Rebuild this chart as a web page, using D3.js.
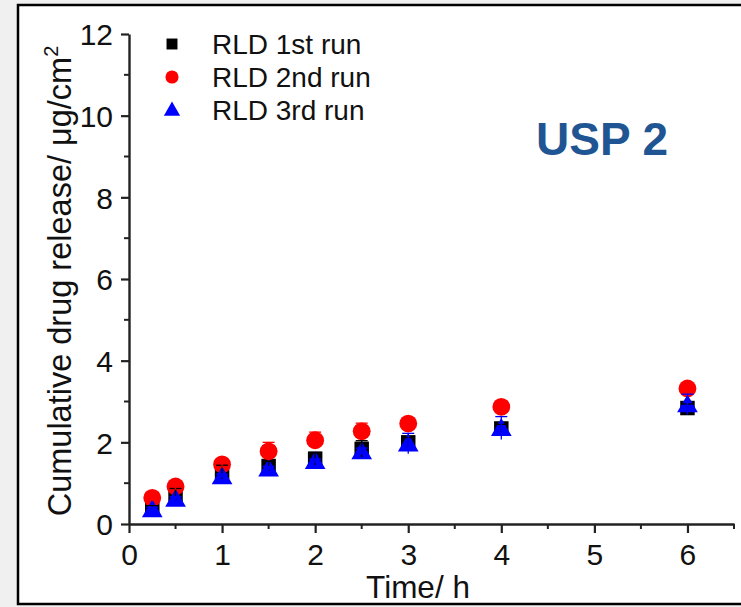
<!DOCTYPE html>
<html>
<head>
<meta charset="utf-8">
<script src="https://cdn.jsdelivr.net/npm/d3@7"></script>
<style>
  html, body { margin: 0; padding: 0; background: #f0f0f0; overflow: hidden; }
  svg { display: block; }
  text { font-family: "Liberation Sans", Arial, sans-serif; fill: #111; }
</style>
</head>
<body>
<svg id="chart" width="741" height="607"></svg>
<script>
// Sampling times (h)
const times = [0.25, 0.5, 1, 1.5, 2, 2.5, 3, 4, 6];

// Cumulative drug release (µg/cm²) for each run, with error bar half-widths
const run1 = [0.40, 0.72, 1.27, 1.42, 1.60, 1.84, 2.00, 2.34, 2.84];
const run1Err = [0.05, 0.15, 0.17, 0.12, 0.15, 0.20, 0.12, 0.10, 0.10];
const run2 = [0.64, 0.92, 1.46, 1.78, 2.05, 2.27, 2.46, 2.87, 3.32];
const run2Err = [0.08, 0.08, 0.08, 0.22, 0.20, 0.20, 0.10, 0.05, 0.05];
const run3 = [0.36, 0.62, 1.17, 1.36, 1.54, 1.78, 1.97, 2.35, 2.93];
const run3Err = [0.05, 0.05, 0.05, 0.05, 0.05, 0.08, 0.25, 0.28, 0.25];

const seriesNames = ["RLD 1st run", "RLD 2nd run", "RLD 3rd run"];
const xTicks = [0, 1, 2, 3, 4, 5, 6];
const yTicks = [0, 2, 4, 6, 8, 10, 12];

const svg = d3.select("#chart");

// page frame (right edge runs past the view)
svg.append("rect").attr("x", 18).attr("y", 5).attr("width", 780).attr("height", 599)
  .attr("fill", "#fff").attr("stroke", "#000").attr("stroke-width", 2.5);

const x = d3.scaleLinear().domain([0, 6.5]).range([129, 734]);
const y = d3.scaleLinear().domain([0, 12]).range([524, 34]);

const axisColor = "#222";

// minor ticks
const xMinor = d3.range(0.5, 6.5, 1);
const yMinor = d3.range(1, 12, 2);

const gx = svg.append("g").attr("transform", `translate(0,${y(0)})`);
gx.call(d3.axisBottom(x).tickValues(xTicks).tickFormat(d3.format("d")).tickSize(9).tickSizeOuter(0).tickPadding(9));
gx.append("g").selectAll("line").data(xMinor.concat([6.5])).join("line")
  .attr("x1", d => x(d)).attr("x2", d => x(d)).attr("y1", 0).attr("y2", 5)
  .attr("stroke", axisColor).attr("stroke-width", 2);

const gy = svg.append("g").attr("transform", `translate(${x(0)},0)`);
gy.call(d3.axisLeft(y).tickValues(yTicks).tickFormat(d3.format("d")).tickSize(8).tickSizeOuter(0).tickPadding(8));
gy.append("g").selectAll("line").data(yMinor).join("line")
  .attr("y1", d => y(d)).attr("y2", d => y(d)).attr("x1", 0).attr("x2", -5)
  .attr("stroke", axisColor).attr("stroke-width", 2);

[gx, gy].forEach(g => {
  g.select(".domain").attr("stroke", axisColor).attr("stroke-width", 2.4);
  g.selectAll(".tick line").attr("stroke", axisColor).attr("stroke-width", 2.2);
  g.selectAll(".tick text").attr("font-size", 30).attr("fill", "#111")
    .attr("font-family", "'Liberation Sans', Arial, sans-serif");
});
gx.selectAll(".tick text").attr("dy", "0.75em");
gy.selectAll(".tick text").attr("dy", "0.36em");

// axis titles
svg.append("text").attr("x", 418).attr("y", 598).attr("text-anchor", "middle")
  .attr("font-size", 31.5).text("Time/ h");

const yt = svg.append("text")
  .attr("transform", `translate(71,${281}) rotate(-90)`)
  .attr("text-anchor", "middle").attr("font-size", 32.5);
yt.append("tspan").text("Cumulative drug release/ μg/cm");
yt.append("tspan").attr("font-size", 20).attr("dy", -13).text("2");

// data
const series = [
  { name: seriesNames[0], vals: run1, err: run1Err, color: "#000", shape: d3.symbolSquare, size: 210, lsize: 120 },
  { name: seriesNames[1], vals: run2, err: run2Err, color: "#ff0000", shape: d3.symbolCircle, size: 250, lsize: 135 },
  { name: seriesNames[2], vals: run3, err: run3Err, color: "#0000ff", shape: d3.symbolTriangle, size: 185, lsize: 115 }
];

series.forEach(s => {
  const pts = times.map((t, i) => ({ t, v: s.vals[i], e: s.err[i] }));
  svg.append("g").selectAll("path").data(pts).join("path")
    .attr("d", d3.symbol().type(s.shape).size(s.size))
    .attr("transform", d => `translate(${x(d.t)},${y(d.v) + (s.shape === d3.symbolTriangle ? 2 : 0)})`)
    .attr("fill", s.color);
});

series.forEach(s => {
  const pts = times.map((t, i) => ({ t, v: s.vals[i], e: s.err[i] }));
  const g = svg.append("g").attr("stroke", s.color).attr("stroke-width", 1.3);
  g.selectAll("line.v").data(pts).join("line").attr("class", "v")
    .attr("x1", d => x(d.t)).attr("x2", d => x(d.t))
    .attr("y1", d => y(d.v - d.e)).attr("y2", d => y(d.v + d.e));
  g.selectAll("line.ct").data(pts).join("line").attr("class", "ct")
    .attr("x1", d => x(d.t) - 6).attr("x2", d => x(d.t) + 6)
    .attr("y1", d => y(d.v + d.e)).attr("y2", d => y(d.v + d.e));
});

// legend
const legend = svg.append("g");
series.forEach((s, i) => {
  const cy = 44 + i * 33;
  legend.append("path")
    .attr("d", d3.symbol().type(s.shape).size(s.lsize))
    .attr("transform", `translate(172,${cy + (s.shape === d3.symbolTriangle ? 1 : 0)})`)
    .attr("fill", s.color);
  legend.append("text").attr("x", 212).attr("y", cy + 10)
    .attr("font-size", 28).text(s.name);
});

// panel label
svg.append("text").attr("x", 536).attr("y", 155)
  .attr("font-size", 46).attr("font-weight", "bold")
  .style("fill", "#1f5592").text("USP 2");
</script>
</body>
</html>
